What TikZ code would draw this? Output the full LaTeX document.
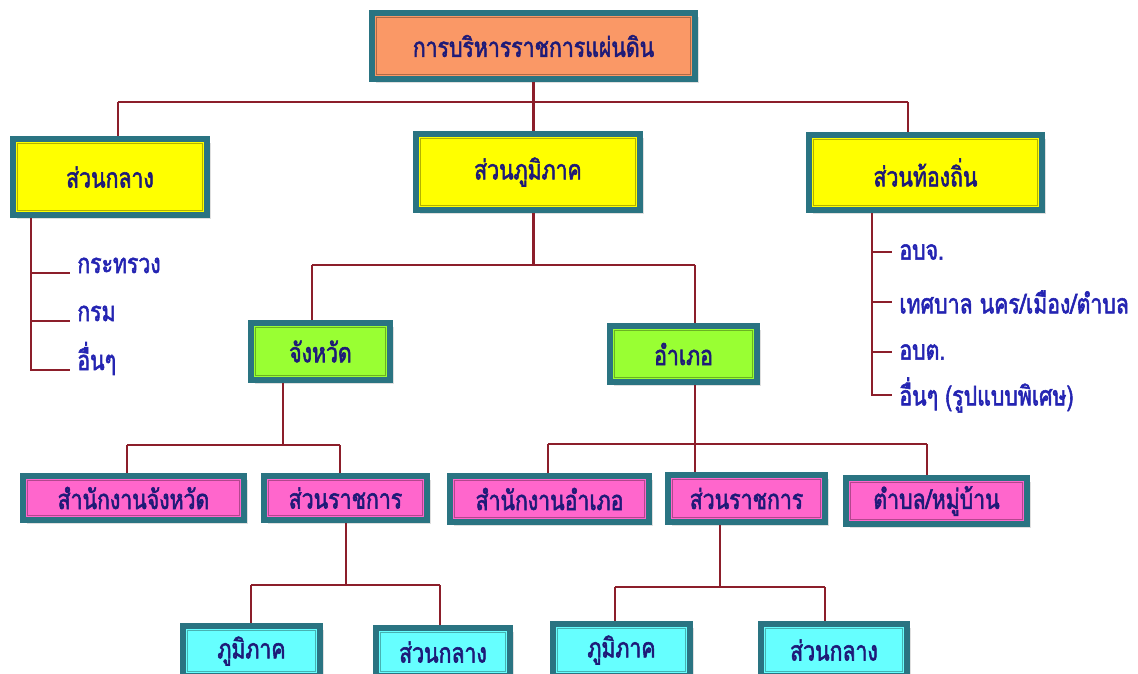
\documentclass[tikz,border=0pt]{standalone}
\usepackage{fontspec}
\newfontfamily\thaifont[Script=Thai,FakeStretch=0.78,FakeBold=2]{Loma}
\usetikzlibrary{positioning,shadows}

\definecolor{edgeteal}{RGB}{42,116,130}
\definecolor{linkred}{RGB}{140,30,42}
\definecolor{textnavy}{RGB}{30,26,120}
\definecolor{textblue}{RGB}{36,36,178}
\definecolor{toporange}{RGB}{250,152,102}
\definecolor{lvlyellow}{RGB}{255,255,0}
\definecolor{lvlgreen}{RGB}{153,255,51}
\definecolor{lvlpink}{RGB}{255,102,204}
\definecolor{lvlcyan}{RGB}{102,255,255}

\newcommand{\pxl}{0.02cm}
\newcommand{\thaitext}{\thaifont\fontsize{15.5}{18}\selectfont}

\tikzset{
  box/.style={draw=edgeteal, line width=3.4pt, inner sep=0pt, text=textnavy, font=\thaitext,
    drop shadow={shadow xshift=2pt, shadow yshift=-2pt, opacity=.25},
    path picture={\draw[black, opacity=.3, line width=.6pt]
      ([shift={(2.6pt,2.6pt)}]path picture bounding box.south west) rectangle
      ([shift={(-2.6pt,-2.6pt)}]path picture bounding box.north east);}},
  link/.style={draw=linkred, line width=1.35pt},
  item/.style={inner sep=0pt, text=textblue, font=\thaitext},
}

\begin{document}
\begin{tikzpicture}[x=\pxl, y=-\pxl]
  \useasboundingbox (0,0) rectangle (1138,673);
  \clip (0,0) rectangle (1138,673);

  % top and first level
  \node[box, fill=toporange, minimum width=323*\pxl, minimum height=66*\pxl] (top) at (533.5,46) {การบริหารราชการแผ่นดิน};
  \node[box, fill=lvlyellow, minimum width=194*\pxl, minimum height=76*\pxl] (central) at (110,177) {ส่วนกลาง};
  \node[box, fill=lvlyellow, minimum width=224*\pxl, minimum height=76*\pxl] (regional) at (528,172) {ส่วนภูมิภาค};
  \node[box, fill=lvlyellow, minimum width=233*\pxl, minimum height=75*\pxl] (local) at (925.5,172.5) {ส่วนท้องถิ่น};

  % lists under central and local
  \node[item, anchor=base west] (ministry) at (77,273) {กระทรวง};
  \node[item, anchor=base west] (dept) at (77,321) {กรม};
  \node[item, anchor=base west] (cother) at (77,370) {อื่นๆ};
  \node[item, anchor=west] (pao) at (899,252) {อบจ.};
  \node[item, anchor=west] (muni) at (899,302) {เทศบาล นคร/เมือง/ตำบล};
  \node[item, anchor=west] (sao) at (899,352) {อบต.};
  \node[item, anchor=west] (lother) at (899,395) {อื่นๆ (รูปแบบพิเศษ)};

  % province and district
  \node[box, fill=lvlgreen, minimum width=139*\pxl, minimum height=57*\pxl] (province) at (320.5,351.5) {จังหวัด};
  \node[box, fill=lvlgreen, minimum width=147*\pxl, minimum height=56*\pxl] (district) at (683.5,354) {อำเภอ};

  \node[box, fill=lvlpink, minimum width=221*\pxl, minimum height=44*\pxl] (provoffice) at (133.5,498) {สำนักงานจังหวัด};
  \node[box, fill=lvlpink, minimum width=163*\pxl, minimum height=44*\pxl] (provunits) at (345.5,498) {ส่วนราชการ};
  \node[box, fill=lvlpink, minimum width=199*\pxl, minimum height=46*\pxl] (distoffice) at (549.5,499) {สำนักงานอำเภอ};
  \node[box, fill=lvlpink, minimum width=157*\pxl, minimum height=47*\pxl] (distunits) at (746.5,498.5) {ส่วนราชการ};
  \node[box, fill=lvlpink, minimum width=181*\pxl, minimum height=46*\pxl] (tambon) at (936.5,501) {ตำบล/หมู่บ้าน};

  % bottom row runs off the lower edge
  \node[box, fill=lvlcyan, minimum width=137*\pxl, minimum height=50*\pxl] (pregion) at (251.5,651) {ภูมิภาค};
  \node[box, fill=lvlcyan, minimum width=134*\pxl, minimum height=48*\pxl] (pcentral) at (443,652) {ส่วนกลาง};
  \node[box, fill=lvlcyan, minimum width=137*\pxl, minimum height=52*\pxl] (dregion) at (621.5,650) {ภูมิภาค};
  \node[box, fill=lvlcyan, minimum width=146*\pxl, minimum height=52*\pxl] (dcentral) at (834,650) {ส่วนกลาง};

  % bus coordinates
  \coordinate (bus1l) at (118,102);
  \coordinate (bus1r) at (908,102);
  \coordinate (lspine) at (31,218);
  \coordinate (rspine) at (872,213);
  \coordinate (bus2l) at (312,265);
  \coordinate (bus2r) at (695,265);
  \coordinate (pdrop) at (283,445);
  \coordinate (bus3l) at (127,445);
  \coordinate (bus3r) at (340,445);
  \coordinate (bus4l) at (548,444);
  \coordinate (bus4r) at (927,444);
  \coordinate (udrop) at (346,585);
  \coordinate (bus5l) at (251,585);
  \coordinate (bus5r) at (440,585);
  \coordinate (vdrop) at (720,587);
  \coordinate (bus6l) at (615,587);
  \coordinate (bus6r) at (825,587);

  % connectors
  \draw[link] (top.south) -- (top.south |- bus1l);
  \draw[link] (bus1l) -- (bus1r);
  \draw[link] (bus1l) -- (bus1l |- central.north);
  \draw[link] (top.south |- bus1l) -- (top.south |- regional.north);
  \draw[link] (bus1r) -- (bus1r |- local.north);

  \draw[link] (lspine) |- ([xshift=-4pt]ministry.base west);
  \draw[link] (lspine) |- ([xshift=-4pt]dept.base west);
  \draw[link] (lspine) |- ([xshift=-4pt]cother.base west);
  \draw[link] (rspine) |- ([xshift=-4pt]pao.west);
  \draw[link] (rspine) |- ([xshift=-4pt]muni.west);
  \draw[link] (rspine) |- ([xshift=-4pt]sao.west);
  \draw[link] (rspine) |- ([xshift=-4pt]lother.west);

  \draw[link] (top.south |- regional.south) -- (top.south |- bus2l);
  \draw[link] (bus2l) -- (bus2r);
  \draw[link] (bus2l) -- (bus2l |- province.north);
  \draw[link] (bus2r) -- (bus2r |- district.north);

  \draw[link] (pdrop |- province.south) -- (pdrop);
  \draw[link] (bus3l) -- (bus3r);
  \draw[link] (bus3l) -- (bus3l |- provoffice.north);
  \draw[link] (bus3r) -- (bus3r |- provunits.north);

  \draw[link] (bus2r |- district.south) -- (bus2r |- distunits.north);
  \draw[link] (bus4l) -- (bus4r);
  \draw[link] (bus4l) -- (bus4l |- distoffice.north);
  \draw[link] (bus4r) -- (bus4r |- tambon.north);

  \draw[link] (udrop |- provunits.south) -- (udrop);
  \draw[link] (bus5l) -- (bus5r);
  \draw[link] (bus5l) -- (bus5l |- pregion.north);
  \draw[link] (bus5r) -- (bus5r |- pcentral.north);

  \draw[link] (vdrop |- distunits.south) -- (vdrop);
  \draw[link] (bus6l) -- (bus6r);
  \draw[link] (bus6l) -- (bus6l |- dregion.north);
  \draw[link] (bus6r) -- (bus6r |- dcentral.north);
\end{tikzpicture}
\end{document}
